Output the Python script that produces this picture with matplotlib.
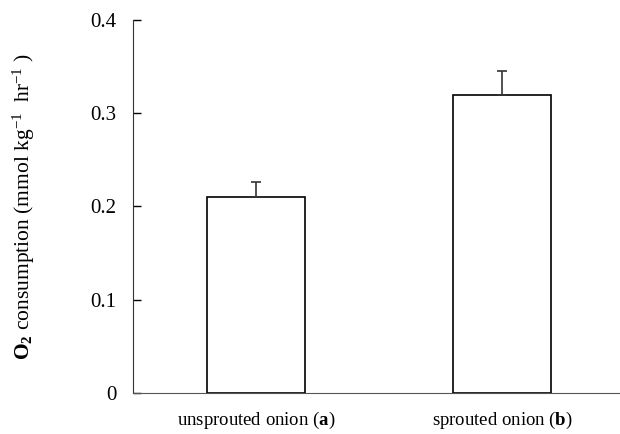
import matplotlib
matplotlib.use("Agg")
import matplotlib.pyplot as plt

# data
categories = [r"unsprouted onion ($\mathbf{a}$)", r"sprouted onion ($\mathbf{b}$)"]
o2_values = [0.21, 0.32]
o2_errors = [0.016, 0.025]
y_ticks = [0, 0.1, 0.2, 0.3, 0.4]
y_tick_labels = ["0", "0.1", "0.2", "0.3", "0.4"]

plt.rcParams['font.family'] = ['Liberation Serif', 'DejaVu Serif']
plt.rcParams['mathtext.fontset'] = 'custom'
plt.rcParams['mathtext.rm'] = 'Liberation Serif'
plt.rcParams['mathtext.it'] = 'Liberation Serif:italic'
plt.rcParams['mathtext.bf'] = 'Liberation Serif:bold'

fig = plt.figure(figsize=(6.2, 4.34), dpi=100)
ax = fig.add_axes([0.2145, 0.0945, 0.7855, 0.8595])

x = list(range(len(categories)))

# bars with one-sided (upward) error bars
ax.bar(x, o2_values, width=0.4, color='white', edgecolor='black', linewidth=1.2,
       yerr=[[0, 0], o2_errors], capsize=3.6,
       error_kw=dict(ecolor='#333333', elinewidth=1.2, capthick=1.2))

ax.set_xlim(-0.5, 1.48)
ax.set_ylim(0, 0.4)
ax.set_yticks(y_ticks)
ax.set_yticklabels(y_tick_labels, fontsize=15)
ax.set_xticks(x)
ax.set_xticklabels(categories, fontsize=13.5)

ax.tick_params(axis='y', direction='in', length=6, width=1, pad=12)
ax.tick_params(axis='x', length=0, pad=12)

ax.spines['top'].set_visible(False)
ax.spines['right'].set_visible(False)
ax.spines['left'].set_color('#333333')
ax.spines['bottom'].set_color('#555555')

ax.set_ylabel(r"$\mathbf{O_2}$ consumption (mmol kg$^{-1}$  hr$^{-1}$ )", fontsize=15.5)
ax.yaxis.set_label_coords(-0.197, 0.5)

fig.savefig("out.png", dpi=100)
